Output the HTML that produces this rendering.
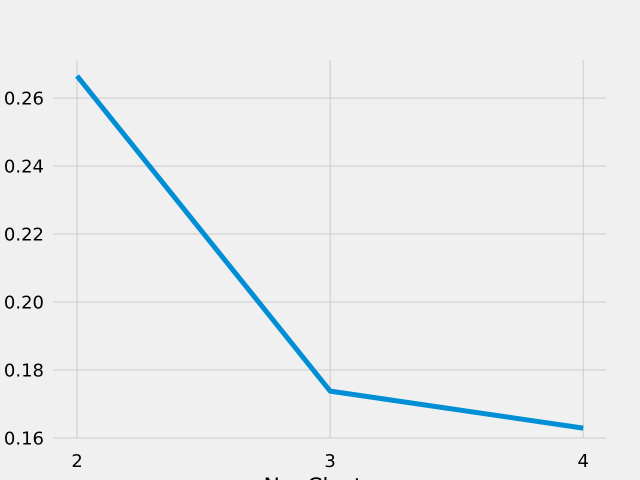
<!DOCTYPE html>
<html><head><meta charset="utf-8"><style>
body{margin:0;background:#f0f0f0;}
svg{display:block;font-family:"DejaVu Sans","Liberation Sans",sans-serif;}
</style></head><body>
<svg id="chart" width="640" height="480"></svg>
<script>
const xCats=[2,3,4];
const yVals=[0.2665,0.1738,0.1629];
const yTicks=[0.16,0.18,0.20,0.22,0.24,0.26];
const yTickLabels=["0.16","0.18","0.20","0.22","0.24","0.26"];
const L=53,R=606,T=60,B=438;
const xMin=1.905,xMax=4.09,yMin=0.16,yMax=0.2712;
const sx=v=>L+(v-xMin)/(xMax-xMin)*(R-L);
const sy=v=>B-(v-yMin)/(yMax-yMin)*(B-T);
const svg=document.getElementById('chart');
const NS='http://www.w3.org/2000/svg';
function mk(tag,attrs,parent){const e=document.createElementNS(NS,tag);for(const k in attrs)e.setAttribute(k,attrs[k]);(parent||svg).appendChild(e);return e;}
yTicks.forEach((t,i)=>{
  const g=mk('line',{x1:L,x2:R,y1:sy(t),y2:sy(t),stroke:'#cbcbcb','stroke-width':1});
  
  
  const tx=mk('text',{x:44,y:sy(t)+6.5,'text-anchor':'end','font-size':18,fill:'#000'});
  tx.textContent=yTickLabels[i];
  
  
});
xCats.forEach(c=>{
  const g=mk('line',{x1:sx(c),x2:sx(c),y1:T,y2:B,stroke:'#cbcbcb','stroke-width':1});
  
  
  const tx=mk('text',{x:sx(c),y:467,'text-anchor':'middle','font-size':18,fill:'#000'});
  tx.textContent=String(c);
  
  
});
const pts=xCats.map((c,i)=>sx(c)+','+sy(yVals[i])).join(' ');
const line=mk('polyline',{points:pts,fill:'none',stroke:'#008fd5','stroke-width':5,'stroke-linejoin':'round'});


const xl=mk('text',{x:330,y:494,'text-anchor':'middle','font-size':22,fill:'#000'});
xl.textContent='No. Clusters';


</script>
</body></html>
